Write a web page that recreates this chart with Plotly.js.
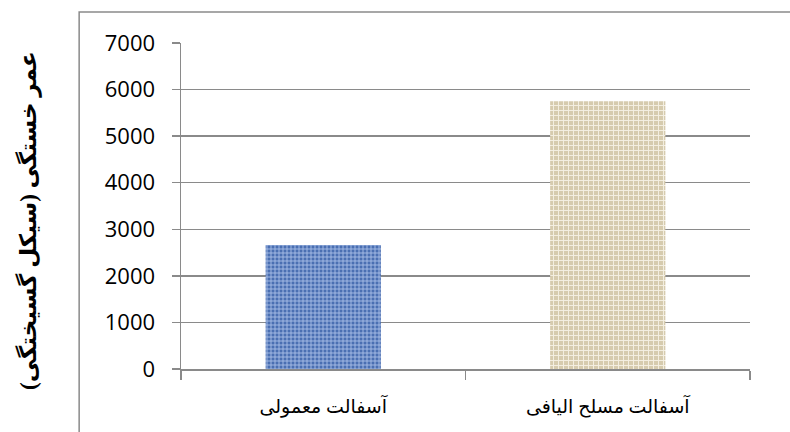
<!DOCTYPE html>
<html>
<head>
<meta charset="utf-8">
<script src="https://cdn.plot.ly/plotly-3.0.1.min.js"></script>
<style>html,body{margin:0;padding:0;background:#fff;}#chart{width:790px;height:432px;}</style>
</head>
<body>
<div id="chart"></div>
<script>
const categories = ["آسفالت معمولی", "آسفالت مسلح الیافی"];
const fatigueLife = [2660, 5750];
const yTitle = "عمر خستگی (سیکل گسیختگی)";
const yTicks = [0, 1000, 2000, 3000, 4000, 5000, 6000, 7000];

const gridColor = "#8a8a8a";

const traces = [
  {
    type: "bar",
    x: [categories[0]],
    y: [fatigueLife[0]],
    marker: {
      color: "#5e84c4",
      line: {width: 0},
      pattern: {shape: "+", fgcolor: "#a9c0e8", bgcolor: "#4a6fb2", size: 4, solidity: 0.4, fillmode: "replace"}
    },
    hoverinfo: "skip"
  },
  {
    type: "bar",
    x: [categories[1]],
    y: [fatigueLife[1]],
    marker: {
      color: "#e3dac3",
      line: {width: 0},
      pattern: {shape: "+", fgcolor: "#f4efe2", bgcolor: "#d6cbae", size: 5, solidity: 0.35, fillmode: "replace"}
    },
    hoverinfo: "skip"
  }
];

const layout = {
  width: 790,
  height: 432,
  margin: {l: 181, r: 40, t: 43, b: 63},
  paper_bgcolor: "#ffffff",
  plot_bgcolor: "#ffffff",
  showlegend: false,
  barmode: "overlay",
  bargap: 0.595,
  xaxis: {
    type: "category",
    categoryarray: categories,
    categoryorder: "array",
    range: [-0.5, 1.5],
    showgrid: false,
    zeroline: false,
    showline: true,
    linecolor: gridColor,
    linewidth: 1.5,
    ticks: "outside",
    tickson: "boundaries",
    ticklen: 9,
    tickwidth: 1.5,
    tickcolor: gridColor,
    ticklabelstandoff: 20,
    tickfont: {family: "Times New Roman, Liberation Serif, DejaVu Sans", size: 19, color: "#000"}
  },
  yaxis: {
    range: [0, 7000],
    tickvals: yTicks,
    ticktext: yTicks.map(String),
    showgrid: true,
    gridcolor: gridColor,
    gridwidth: 1.5,
    zeroline: false,
    showline: true,
    linecolor: gridColor,
    linewidth: 1.5,
    ticks: "outside",
    ticklen: 8,
    tickwidth: 1.5,
    tickcolor: gridColor,
    ticklabelstandoff: 12,
    tickfont: {family: "Open Sans, Noto Sans, sans-serif", size: 22, color: "#000"}
  },
  annotations: [
    {
      text: "<b>" + yTitle + "</b>",
      textangle: -90,
      xref: "paper", yref: "paper",
      x: -0.269, y: 0.457,
      xanchor: "center", yanchor: "middle",
      showarrow: false,
      font: {family: "Times New Roman, Liberation Serif, DejaVu Sans", size: 23, color: "#000"}
    }
  ],
  shapes: [
    {
      type: "rect", xref: "paper", yref: "paper",
      x0: -0.179, x1: 1.1, y0: -0.25, y1: 1.095,
      line: {color: "#8a8a8a", width: 1.5},
      fillcolor: "rgba(0,0,0,0)"
    }
  ]
};

Plotly.newPlot("chart", traces, layout, {staticPlot: true, displayModeBar: false});
</script>
</body>
</html>
